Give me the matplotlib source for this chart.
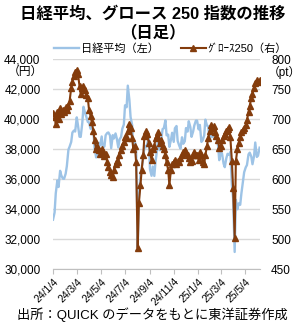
import matplotlib
matplotlib.use("Agg")
import matplotlib.pyplot as plt
import matplotlib.ticker as mticker
import matplotlib.lines as mlines
import pandas as pd

plt.rcParams['font.family'] = ['Liberation Sans', 'Noto Sans CJK JP']

# sample dates: every Monday and Thursday
mondays = pd.date_range("2024-01-08", "2025-06-09", freq="W-MON")
thursdays = pd.date_range("2024-01-04", "2025-06-05", freq="W-THU")
dates = mondays.union(thursdays)

# 日経平均 (円)
nikkei = [
    33288, 33763, 35049, 35901, 35466, 36546, 36236, 36026,                 # 24/1
    36011, 36354, 36863, 37963, 38157, 38470, 39098, 39233, 39166,          # 24/2
    40109, 39598, 38820, 38807, 39740, 40815, 40414, 40168,                 # 24/3
    39803, 39773, 39347, 39442, 39232, 38079, 37438, 37628, 38405,          # 24/4
    38236, 38835, 38073, 38179, 38920, 39069, 39103, 38900, 38054,          # 24/5
    38923, 38703, 39038, 38720, 38102, 38633, 38804, 39341,                 # 24/6
    39631, 40913, 40780, 42224, 41275, 40126, 39599, 37869, 38468,          # 24/7
    38126, 31458, 34831, 36232, 36726, 37388, 38211, 38110, 38362,          # 24/8
    38700, 36657, 36215, 36833, 36203, 37155, 37940, 38926, 37919,          # 24/9
    38552, 39332, 39380, 39910, 38911, 38954, 38143, 38605, 39081,          # 24/10
    38474, 39381, 39533, 38535, 38220, 38026, 38780, 38349,                 # 24/11
    38513, 39395, 39160, 39849, 39457, 38813, 39161, 39568, 39894,          # 24/12
    39894, 39307, 39605, 38474, 38572, 38902, 39958, 39565, 39513,          # 25/1
    38520, 39066, 38801, 39461, 39174, 38678, 38237, 37256,                 # 25/2
    37785, 37704, 37028, 36790, 37396, 37677, 37608, 37799, 35617,          # 25/3
    34735, 31136, 34609, 33982, 34377, 34280, 35039, 35839,                 # 25/4
    36452, 36780, 36928, 37644, 37755, 37499, 36986, 37532, 38432,          # 25/5
    37470, 37554, 38088,                                                    # 25/6
]

# グロース250 (pt)
growth = [
    710, 703, 692, 712, 700, 718, 708, 715,                                 # 24/1
    712, 720, 715, 722, 730, 752, 762, 772, 778,                            # 24/2
    782, 775, 755, 742, 752, 755, 748, 740,                                 # 24/3
    735, 715, 705, 695, 680, 665, 650, 655, 648,                            # 24/4
    642, 650, 645, 638, 642, 628, 620, 612, 606,                            # 24/5
    603, 615, 625, 630, 628, 640, 648, 655,                                 # 24/6
    662, 670, 668, 680, 692, 685, 668, 650, 655,                            # 24/7
    628, 485, 560, 590, 615, 640, 672, 680, 675,                            # 24/8
    660, 645, 632, 650, 655, 668, 672, 678, 660,                            # 24/9
    665, 655, 650, 640, 628, 615, 590, 615, 625,                            # 24/10
    628, 632, 625, 630, 628, 635, 640, 645,                                 # 24/11
    648, 643, 640, 635, 628, 630, 640, 645, 640,                            # 24/12
    640, 632, 645, 640, 628, 625, 640, 655, 668,                            # 25/1
    680, 690, 685, 688, 678, 672, 665, 652,                                 # 25/2
    655, 665, 672, 675, 680, 684, 686, 670, 630,                            # 25/3
    585, 502, 630, 650, 660, 670, 678, 682,                                 # 25/4
    685, 690, 698, 712, 722, 735, 742, 752, 760,                            # 25/5
    765, 762, 765,                                                          # 25/6
]

tick_dates = ["2024-01-04", "2024-03-04", "2024-05-04", "2024-07-04", "2024-09-04",
              "2024-11-04", "2025-01-04", "2025-03-04", "2025-05-04"]
tick_labels = ["24/1/4", "24/3/4", "24/5/4", "24/7/4", "24/9/4",
               "24/11/4", "25/1/4", "25/3/4", "25/5/4"]

blue = "#9DC3E6"
brown = "#843C0C"
grid = "#D9D9D9"

fig = plt.figure(figsize=(3.05, 3.25), dpi=100)
ax = fig.add_axes([53 / 305, 1 - 269 / 325, 207 / 305, 210 / 325])
ax2 = ax.twinx()

ax.plot(dates, nikkei, color=blue, lw=1.7, zorder=3)
ax2.plot(dates, growth, color=brown, lw=1.5, marker="^", ms=4,
         mec=brown, mfc=brown, zorder=3)

ax.set_ylim(30000, 44000)
ax.set_yticks(range(30000, 44001, 2000))
ax.yaxis.set_major_formatter(mticker.StrMethodFormatter("{x:,.0f}"))
ax2.set_ylim(450, 800)
ax2.set_yticks(range(450, 801, 50))
ax.set_xlim(pd.Timestamp("2024-01-04"), pd.Timestamp("2025-06-10"))

ax.set_xticks(pd.to_datetime(tick_dates))
ax.set_xticklabels(tick_labels, rotation=45, ha="right", rotation_mode="anchor",
                   fontsize=7.5)
ax.tick_params(axis="x", length=3.5, color="#BFBFBF", pad=2)
ax.tick_params(axis="y", length=0, labelsize=8.5, pad=9)
ax2.tick_params(axis="y", length=0, labelsize=8.5, pad=8)

ax.grid(axis="y", color=grid, lw=1)
ax.set_axisbelow(True)
for a in (ax, ax2):
    for s in ("top", "left", "right"):
        a.spines[s].set_visible(False)
    a.spines["bottom"].set_color("#BFBFBF")
ax2.spines["bottom"].set_visible(False)

fig.text(25 / 305, 1 - 72 / 325, "（円）", ha="center", va="center", fontsize=8.5)
fig.text(284 / 305, 1 - 72 / 325, "（pt）", ha="center", va="center", fontsize=8.5)

fig.text(0.5, 1 - 14 / 325, "日経平均、グロース 250 指数の推移", ha="center",
         va="center", fontsize=11.8, fontweight="bold")
fig.text(0.5, 1 - 32 / 325, "（日足）", ha="center", va="center",
         fontsize=11.8, fontweight="bold")

h1 = mlines.Line2D([], [], color=blue, lw=1.7)
h2 = mlines.Line2D([], [], color=brown, lw=1.5, marker="^", ms=4)
fig.legend([h1, h2], ["日経平均（左）", "ｸﾞﾛｰｽ250（右）"], ncol=2,
           loc="center", bbox_to_anchor=(0.56, 1 - 49 / 325), frameon=False,
           fontsize=8, handlelength=2.2, handletextpad=0.2, columnspacing=2.0)

fig.text(0.5, 1 - 315 / 325, "出所：QUICK のデータをもとに東洋証券作成",
         ha="center", va="center", fontsize=9.5)

fig.savefig("out.png", dpi=100)
